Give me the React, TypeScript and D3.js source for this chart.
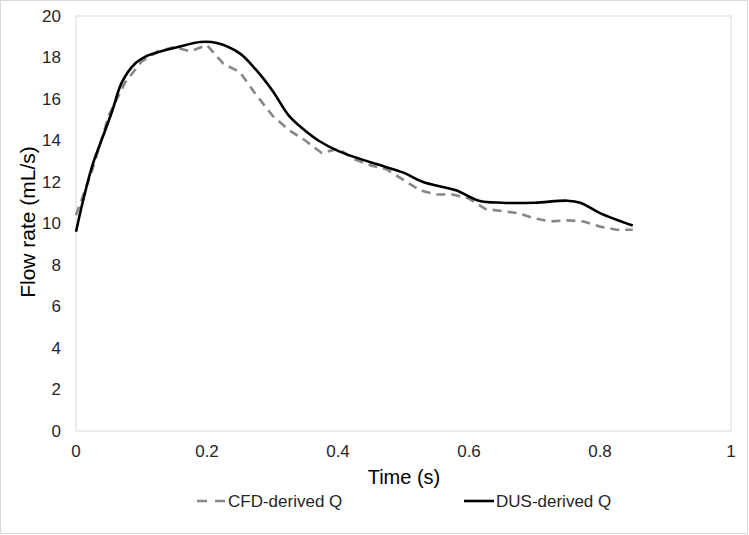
import React from "react";
import * as d3 from "d3";

// CFD-derived flow rate, sampled every 0.025 s
const cfdTime = [0, 0.025, 0.05, 0.075, 0.1, 0.125, 0.15, 0.175, 0.2, 0.225, 0.25, 0.275, 0.3, 0.325, 0.35, 0.375, 0.4, 0.425, 0.45, 0.475, 0.5, 0.525, 0.55, 0.575, 0.6, 0.625, 0.65, 0.675, 0.7, 0.725, 0.75, 0.775, 0.8, 0.825, 0.85];
const cfdFlow = [10.4, 12.6, 15.2, 16.8, 17.8, 18.3, 18.5, 18.3, 18.6, 17.7, 17.3, 16.2, 15.2, 14.5, 14.0, 13.4, 13.6, 13.1, 12.8, 12.6, 12.1, 11.6, 11.4, 11.4, 11.2, 10.7, 10.6, 10.5, 10.25, 10.1, 10.15, 10.1, 9.85, 9.7, 9.7];

// DUS-derived flow rate
const dusTime = [0, 0.01, 0.025, 0.04, 0.055, 0.07, 0.09, 0.11, 0.13, 0.155, 0.19, 0.215, 0.25, 0.275, 0.3, 0.325, 0.345, 0.37, 0.4, 0.43, 0.46, 0.5, 0.53, 0.58, 0.615, 0.65, 0.7, 0.75, 0.77, 0.8, 0.85];
const dusFlow = [9.6, 11.0, 12.8, 14.1, 15.4, 16.8, 17.7, 18.1, 18.3, 18.5, 18.75, 18.7, 18.2, 17.4, 16.4, 15.2, 14.6, 14.0, 13.5, 13.15, 12.85, 12.45, 12.0, 11.6, 11.1, 11.0, 11.0, 11.1, 11.0, 10.5, 9.9];

const xTicks = [0, 0.2, 0.4, 0.6, 0.8, 1];
const yTicks = [0, 2, 4, 6, 8, 10, 12, 14, 16, 18, 20];
const seriesNames = ["CFD-derived Q", "DUS-derived Q"];

const W = 749;
const H = 535;
const plot = { left: 76, right: 731, top: 16, bottom: 431 };
const font = "'Liberation Sans', Arial, sans-serif";

export default function App() {
  const x = d3.scaleLinear().domain([0, 1]).range([plot.left, plot.right]);
  const y = d3.scaleLinear().domain([0, 20]).range([plot.bottom, plot.top]);

  const cfdLine = d3
    .line<number>()
    .x((_, i) => x(cfdTime[i]))
    .y((d) => y(d))
    .curve(d3.curveLinear);
  const dusLine = d3
    .line<number>()
    .x((_, i) => x(dusTime[i]))
    .y((d) => y(d))
    .curve(d3.curveCatmullRom.alpha(0.5));

  return (
    <svg
      width={W}
      height={H}
      style={{ position: "absolute", left: 0, top: 0, background: "#fff" }}
      fontFamily={font}
    >
      <rect x={0.5} y={0.5} width={W - 2} height={H - 2} fill="#fff" stroke="#d9d9d9" />
      <rect
        x={plot.left}
        y={plot.top}
        width={plot.right - plot.left}
        height={plot.bottom - plot.top}
        fill="none"
        stroke="#d9d9d9"
        strokeWidth={1}
      />

      {yTicks.map((t) => (
        <text key={"y" + t} x={61} y={y(t)} dy="0.35em" textAnchor="end" fontSize={17} fill="#262626">
          {t}
        </text>
      ))}
      {xTicks.map((t) => (
        <text key={"x" + t} x={x(t)} y={457} textAnchor="middle" fontSize={17} fill="#262626">
          {t}
        </text>
      ))}

      <text x={404} y={484} textAnchor="middle" fontSize={20} fill="#000">
        Time (s)
      </text>
      <text
        transform={`translate(35,222) rotate(-90)`}
        textAnchor="middle"
        fontSize={21}
        fill="#000"
      >
        Flow rate (mL/s)
      </text>

      <path
        d={cfdLine(cfdFlow) || ""}
        fill="none"
        stroke="#878787"
        strokeWidth={2.6}
        strokeDasharray="9,6"
      />
      <path d={dusLine(dusFlow) || ""} fill="none" stroke="#000" strokeWidth={2.6} />

      <g>
        <line x1={197} x2={226} y1={501} y2={501} stroke="#878787" strokeWidth={2.6} strokeDasharray="10,8" />
        <text x={228} y={507} fontSize={17} fill="#262626">
          {seriesNames[0]}
        </text>
        <line x1={464} x2={494} y1={501} y2={501} stroke="#000" strokeWidth={2.6} />
        <text x={496} y={507} fontSize={17} fill="#262626">
          {seriesNames[1]}
        </text>
      </g>
    </svg>
  );
}
